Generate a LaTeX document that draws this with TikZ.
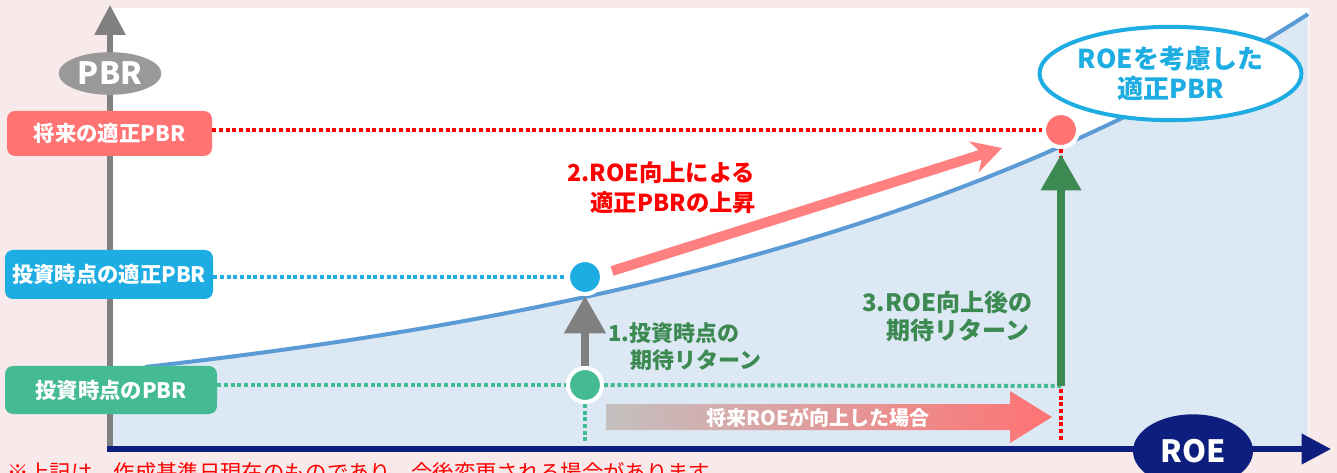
\documentclass[tikz,border=0pt]{standalone}
\usepackage{fontspec}
\setmainfont{Noto Sans CJK JP}
\usetikzlibrary{arrows.meta,shapes.geometric}
\definecolor{bgpink}{HTML}{F8EAEA}
\definecolor{areafill}{HTML}{DDE8F5}
\definecolor{curveblue}{HTML}{5B9BD5}
\definecolor{lred}{HTML}{FF7373}
\definecolor{lblue}{HTML}{1EADE3}
\definecolor{lgreen}{HTML}{44BB94}
\definecolor{dgreen}{HTML}{3C8A52}
\definecolor{navyc}{HTML}{0D1E7E}
\definecolor{axgray}{HTML}{808080}
\definecolor{ellgray}{HTML}{999999}
\definecolor{arrred}{HTML}{FF8080}
\definecolor{shadegray}{HTML}{C4C0C0}
\definecolor{pureRed}{HTML}{FF0000}
\begin{document}
\begin{tikzpicture}[x=0.75pt,y=-0.75pt,
  lbl/.style={rounded corners=6pt, text=white, inner sep=0pt,
    font=\bfseries\fontsize{16}{19}\selectfont},
  dotnode/.style={circle, draw=white, line width=3pt, minimum size=25.5pt, inner sep=0pt},
  dotline/.style={line width=3pt, dash pattern=on 3pt off 2pt},
  axisline/.style={line width=4.5pt},
  bigarrow/.style={line width=6pt},
  annot/.style={inner sep=0pt, align=left, anchor=west},
  curvefn/.style={domain=145:1308, samples=80}
]
\useasboundingbox (0,0) rectangle (1337,473);
\fill[bgpink] (0,0) rectangle (1337,473);
\fill[white] (110,8) rectangle (1309,449);
\fill[areafill] (110,367) -- (145,367)
  -- plot[curvefn] (\x,{367-75.2*(exp(0.0015*(\x-145))-1)})
  -- (1308,449) -- (110,449) -- cycle;
\draw[curveblue, line width=3pt] plot[curvefn] (\x,{367-75.2*(exp(0.0015*(\x-145))-1)});

% axes
\coordinate (O) at (110,449);
\coordinate (ytip) at (110,5);
\coordinate (xstart) at (107,449);
\coordinate (xtip) at (1331,449);
\draw[axisline, axgray, -{Triangle[length=22.5pt,width=22.5pt]}] (O) -- (ytip);
\draw[axisline, navyc, -{Triangle[length=22pt,width=22pt]}] (xstart) -- (xtip);
\node[ellipse, fill=ellgray, minimum width=77pt, minimum height=32pt, inner sep=0pt,
  text=white, font=\bfseries\fontsize{23}{26}\selectfont] (pbr) at (110,73.5) {PBR};
\node[ellipse, fill=navyc, minimum width=90pt, minimum height=55pt, inner sep=0pt,
  text=white, font=\bfseries\fontsize{23}{26}\selectfont] (roe) at (1193,451) {ROE};

% points
\node[dotnode, fill=lblue] (bdot) at (585,277) {};
\node[dotnode, fill=lgreen] (gdot) at (585,385) {};
\node[dotnode, fill=lred] (rdot) at (1061,130) {};
\coordinate (g3) at (1061,386);
\coordinate (r2s) at (612,271);
\coordinate (r2e) at (1002,148);

% labels
\node[lbl, fill=lred, minimum width=153.75pt, minimum height=33.75pt] (lblR) at (109.5,133.5) {将来の適正PBR};
\node[lbl, fill=lblue, minimum width=156pt, minimum height=36.75pt] (lblB) at (109,274.5) {投資時点の適正PBR};
\node[lbl, fill=lgreen, minimum width=159pt, minimum height=36pt] (lblG) at (111,390) {投資時点のPBR};

% dotted guides
\draw[dotline, pureRed] (lblR.east |- rdot) -- (rdot.west);
\draw[dotline, pureRed, shorten >=6pt] (rdot.south) -- (rdot |- O);
\draw[dotline, lblue] (lblB.east |- bdot) -- (bdot.west);
\draw[dotline, lgreen] (lblG.east |- gdot) -- (gdot.west);
\draw[dotline, lgreen] (gdot.east) -- (g3);
\draw[dotline, lgreen, shorten >=5pt] (gdot.south) -- (gdot |- O);

% arrows
\draw[bigarrow, axgray, -{Triangle[length=28pt,width=30pt]}] (gdot.north) -- (bdot.south);
\draw[bigarrow, dgreen, shorten >=4pt, -{Triangle[length=27pt,width=29pt]}] (g3) -- (rdot.south);
\draw[line width=7.5pt, arrred, -{Stealth[length=22pt,width=24pt,inset=7pt]}] (r2s) -- (r2e);

% redraw dots on top
\node[dotnode, fill=lblue] at (bdot) {};
\node[dotnode, fill=lgreen] at (gdot) {};
\node[dotnode, fill=lred] at (rdot) {};

% gradient arrow
\shade[left color=shadegray, right color=lred] (606,404) -- (1010,404) -- (1010,391)
  -- (1052,417) -- (1010,443) -- (1010,430) -- (606,430) -- cycle;
\node[text=white, inner sep=0pt, font=\bfseries\fontsize{15}{18}\selectfont] (roeup) at (818,418) {将来ROEが向上した場合};

% annotations
\node[annot, text=pureRed, font=\bfseries\fontsize{17.5}{22.5}\selectfont] (t2) at (567,188)
  {2.ROE向上による\\\hspace*{1em}適正PBRの上昇};
\node[annot, text=dgreen, font=\bfseries\fontsize{16.5}{20.25}\selectfont] (t1) at (608,346.5)
  {1.投資時点の\\\hspace*{1em}期待リターン};
\node[annot, text=dgreen, font=\bfseries\fontsize{18}{21}\selectfont] (t3) at (862,316)
  {3.ROE向上後の\\\hspace*{1em}期待リターン};

% ellipse callout
\node[ellipse, draw=lblue, line width=3pt, fill=white, minimum width=190pt, minimum height=70pt,
  inner sep=0pt, align=center, text=lblue, font=\bfseries\fontsize{19.5}{22.5}\selectfont]
  (roeell) at (1170.5,73.5) {ROEを考慮した\\適正PBR};

% footnote
\node[anchor=base west, inner sep=0pt, text=pureRed, font=\fontsize{16}{19}\selectfont] (note) at (7,480)
  {※上記は、作成基準日現在のものであり、今後変更される場合があります。};
\end{tikzpicture}
\end{document}
